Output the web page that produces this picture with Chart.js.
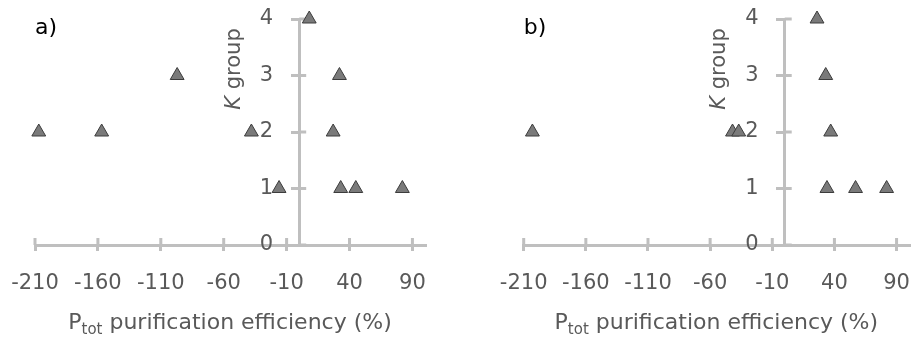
<!DOCTYPE html>
<html>
<head>
<meta charset="utf-8">
<script src="https://cdn.jsdelivr.net/npm/chart.js@4"></script>
<style>
  html, body { margin: 0; padding: 0; background: #fff; }
  .wrap { position: absolute; top: 0; width: 459px; height: 337px; }
  #wa { left: 0; }
  #wb { left: 459px; }
</style>
</head>
<body>
<div class="wrap" id="wa"><canvas id="ca" width="459" height="337"></canvas></div>
<div class="wrap" id="wb"><canvas id="cb" width="459" height="337"></canvas></div>
<script>
// tick labels
const xTicks = [-210, -160, -110, -60, -10, 40, 90];
const yTicks = [0, 1, 2, 3, 4];

// panel a) points
const aEff = [8, -97, 32, -207, -157, -38, 27, -16, 33, 45, 82];
const aGroup = [4, 3, 3, 2, 2, 2, 2, 1, 1, 1, 1];

// panel b) points
const bEff = [26, 33, -203, -42, -37, 37, 34, 57, 82];
const bGroup = [4, 3, 2, 2, 2, 2, 1, 1, 1];

const AXIS = '#bfbfbf';
const TEXT = '#595959';
const FONT = '"DejaVu Sans", sans-serif';

// inner half of the cross tick marks
const crossTicks = {
  id: 'crossTicks',
  beforeDatasetsDraw(chart) {
    const ctx = chart.ctx, xs = chart.scales.x, ys = chart.scales.y;
    const x0 = xs.getPixelForValue(0);
    ctx.save();
    ctx.strokeStyle = AXIS;
    ctx.lineWidth = 3;
    ctx.beginPath();
    xs.ticks.forEach(t => {
      const p = xs.getPixelForValue(t.value);
      ctx.moveTo(p, ys.bottom);
      ctx.lineTo(p, ys.bottom - 7);
    });
    ys.ticks.forEach(t => {
      const p = ys.getPixelForValue(t.value);
      ctx.moveTo(x0, p);
      ctx.lineTo(x0 + 7, p);
    });
    ctx.stroke();
    ctx.restore();
  }
};

// y labels of an axis placed at x = 0 ignore ticks.padding, push them left
const yLabelGap = {
  id: 'yLabelGap',
  beforeDraw(chart) {
    chart.scales.y.getLabelItems().forEach(it => {
      if (it._moved) return;
      if (it.options && it.options.translation) it.options.translation[0] -= 26;
      else if (it.x !== undefined) it.x -= 26;
      it._moved = true;
    });
  }
};

// panel letter + axis titles (italic K, subscript tot)
const labels = {
  id: 'labels',
  afterDraw(chart, args, opts) {
    const ctx = chart.ctx, xs = chart.scales.x, ca = chart.chartArea;
    ctx.save();
    ctx.fillStyle = '#000';
    ctx.font = '22px ' + FONT;
    ctx.textBaseline = 'middle';
    ctx.textAlign = 'left';
    ctx.fillText(opts.letter, ca.left, 28);

    // y title
    ctx.fillStyle = TEXT;
    const x0 = xs.getPixelForValue(0);
    ctx.translate(x0 - 65, 69);
    ctx.rotate(-Math.PI / 2);
    ctx.textBaseline = 'middle';
    ctx.font = 'italic 21px ' + FONT;
    const wK = ctx.measureText('K').width;
    ctx.font = '21px ' + FONT;
    const wG = ctx.measureText(' group').width;
    const sx = -(wK + wG) / 2;
    ctx.font = 'italic 21px ' + FONT;
    ctx.fillText('K', sx, 0);
    ctx.font = '21px ' + FONT;
    ctx.fillText(' group', sx + wK, 0);
    ctx.setTransform(1, 0, 0, 1, 0, 0);

    // x title
    ctx.textBaseline = 'alphabetic';
    const big = '22px ' + FONT, small = '15px ' + FONT;
    ctx.font = big;
    const wP = ctx.measureText('P').width;
    const wRest = ctx.measureText(' purification efficiency (%)').width;
    ctx.font = small;
    const wT = ctx.measureText('tot').width;
    const tx = (ca.left + ca.right) / 2 - (wP + wT + wRest) / 2;
    const by = 329;
    ctx.font = big;
    ctx.fillText('P', tx, by);
    ctx.font = small;
    ctx.fillText('tot', tx + wP, by + 5);
    ctx.font = big;
    ctx.fillText(' purification efficiency (%)', tx + wP + wT, by);
    ctx.restore();
  }
};

function makeChart(id, eff, group, letter, padLeft, padRight) {
  return new Chart(document.getElementById(id), {
    type: 'scatter',
    data: {
      datasets: [{
        data: eff.map((x, i) => ({ x: x, y: group[i] })),
        pointStyle: 'triangle',
        pointRadius: 8,
        pointHoverRadius: 8,
        backgroundColor: '#7a7a7a',
        borderColor: '#3c3c3c',
        borderWidth: 1,
        clip: false
      }]
    },
    options: {
      responsive: false,
      animation: false,
      devicePixelRatio: 1,
      layout: { padding: { left: padLeft, right: padRight, top: 19, bottom: 0 } },
      plugins: {
        legend: { display: false },
        tooltip: { enabled: false },
        labels: { letter: letter }
      },
      scales: {
        x: {
          type: 'linear',
          position: 'bottom',
          min: -210,
          max: 100,
          afterBuildTicks: s => { s.ticks = xTicks.map(v => ({ value: v })); },
          afterFit: s => { s.height = 92; s.paddingLeft = 0; s.paddingRight = 0; },
          border: { color: AXIS, width: 3 },
          grid: { drawOnChartArea: false, color: AXIS, lineWidth: 3, tickLength: 6 },
          ticks: { color: TEXT, font: { family: FONT, size: 21 }, padding: 20, maxRotation: 0 }
        },
        y: {
          type: 'linear',
          position: { x: 0 },
          min: 0,
          max: 4,
          afterBuildTicks: s => { s.ticks = yTicks.map(v => ({ value: v })); },
          afterFit: s => { s.paddingTop = 0; s.paddingBottom = 0; },
          border: { color: AXIS, width: 3 },
          grid: { drawOnChartArea: false, color: AXIS, lineWidth: 3, tickLength: 7 },
          ticks: { color: TEXT, font: { family: FONT, size: 21 } }
        }
      }
    },
    plugins: [crossTicks, yLabelGap, labels]
  });
}

makeChart('ca', aEff, aGroup, 'a)', 35, 34);
makeChart('cb', bEff, bGroup, 'b)', 64.7, 3.3);
</script>
</body>
</html>
